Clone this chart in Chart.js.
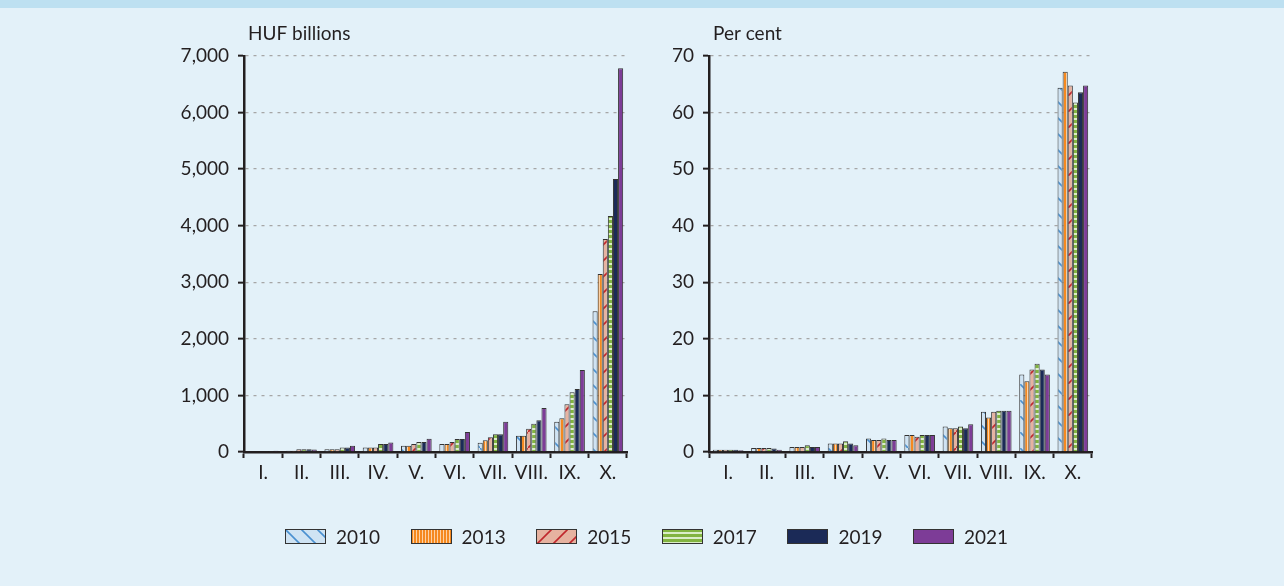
<!DOCTYPE html>
<html>
<head>
<meta charset="utf-8">
<script src="https://cdn.jsdelivr.net/npm/chart.js@4/dist/chart.umd.min.js"></script>
<style>
  html, body { margin: 0; padding: 0; }
  body { width: 1284px; height: 586px; background: #e3f1f9; position: relative; overflow: hidden; font-family: Lato, sans-serif; }
  #band { position: absolute; left: 0; top: 0; width: 1284px; height: 8px; background: #bde0f1; }
  .box { position: absolute; top: 0; width: 642px; height: 586px; }
  #legend { position: absolute; left: 285px; top: 525px; height: 22px; display: flex; align-items: center; }
  #legend .item { width: 125.6px; display: flex; align-items: center; font-size: 19px; color: #231f20; }
  #legend canvas { margin-right: 10px; }
</style>
</head>
<body>
<div id="band"></div>
<div class="box" style="left:0"><canvas id="left"></canvas></div>
<div class="box" style="left:620px"><canvas id="right"></canvas></div>
<div id="legend"></div>
<script>
const deciles = ['I.', 'II.', 'III.', 'IV.', 'V.', 'VI.', 'VII.', 'VIII.', 'IX.', 'X.'];
const years = ['2010', '2013', '2015', '2017', '2019', '2021'];

// HUF billions
const huf2010 = [12, 20, 50, 80, 112, 140, 165, 289, 536, 2490];
const huf2013 = [14, 22, 50, 80, 112, 140, 206, 289, 595, 3145];
const huf2015 = [15, 50, 50, 80, 142, 175, 259, 412, 843, 3765];
const huf2017 = [17, 50, 80, 142, 175, 230, 312, 501, 1055, 4170];
const huf2019 = [18, 50, 80, 142, 175, 230, 312, 560, 1113, 4825];
const huf2021 = [20, 45, 112, 170, 233, 353, 536, 777, 1449, 6785];

// per cent
const pct2010 = [0.4, 0.7, 0.9, 1.5, 2.4, 3.0, 4.5, 7.1, 13.7, 64.4];
const pct2013 = [0.4, 0.7, 0.9, 1.5, 2.1, 3.0, 4.2, 6.1, 12.5, 67.2];
const pct2015 = [0.4, 0.7, 0.9, 1.5, 2.1, 2.7, 4.2, 7.1, 14.6, 64.8];
const pct2017 = [0.4, 0.7, 1.2, 1.9, 2.4, 3.0, 4.5, 7.3, 15.6, 61.8];
const pct2019 = [0.4, 0.6, 0.9, 1.5, 2.1, 3.0, 4.2, 7.3, 14.6, 63.6];
const pct2021 = [0.3, 0.4, 0.9, 1.2, 2.1, 3.0, 4.9, 7.3, 13.7, 64.8];

const ink = '#231f20';

function tile(w, h, draw) {
  const c = document.createElement('canvas');
  c.width = w; c.height = h;
  const g = c.getContext('2d');
  draw(g);
  return g.createPattern(c, 'repeat');
}

const fills = [
  tile(16, 16, g => {
    g.fillStyle = '#cfe3f3'; g.fillRect(0, 0, 16, 16);
    g.strokeStyle = '#4a90d0'; g.lineWidth = 1.6;
    g.beginPath(); g.moveTo(-1, -1); g.lineTo(17, 17); g.stroke();
  }),
  tile(3, 1, g => {
    g.fillStyle = '#fdd1a4'; g.fillRect(0, 0, 3, 1);
    g.fillStyle = '#f5891f'; g.fillRect(0, 0, 2, 1);
  }),
  tile(16, 16, g => {
    g.fillStyle = '#e6b2a0'; g.fillRect(0, 0, 16, 16);
    g.strokeStyle = '#c0272d'; g.lineWidth = 1.6;
    g.beginPath(); g.moveTo(-1, 17); g.lineTo(17, -1); g.stroke();
  }),
  tile(1, 5, g => {
    g.fillStyle = '#dbeec8'; g.fillRect(0, 0, 1, 5);
    g.fillStyle = '#82b440'; g.fillRect(0, 0, 1, 3);
  }),
  '#1b2a57',
  '#7d3c97'
];

const hufSeries = [huf2010, huf2013, huf2015, huf2017, huf2019, huf2021];
const pctSeries = [pct2010, pct2013, pct2015, pct2017, pct2019, pct2021];

const unitLabel = {
  id: 'unitLabel',
  afterDraw(chart, args, opts) {
    const { ctx, chartArea } = chart;
    ctx.save();
    ctx.font = '19px Lato';
    ctx.fillStyle = ink;
    ctx.textBaseline = 'alphabetic';
    ctx.fillText(opts.text, chartArea.left + 4, chartArea.top - 16);
    ctx.restore();
  }
};

function makeChart(id, series, unit, max, step, padLeft, padRight) {
  return new Chart(document.getElementById(id), {
    type: 'bar',
    data: {
      labels: deciles,
      datasets: series.map((d, i) => ({
        label: years[i],
        data: d,
        backgroundColor: fills[i],
        borderColor: '#333333',
        borderWidth: 1,
        categoryPercentage: 0.8,
        barPercentage: 1.0
      }))
    },
    plugins: [unitLabel],
    options: {
      responsive: true,
      maintainAspectRatio: false,
      animation: false,
      layout: {
        padding: { left: padLeft, right: padRight, top: 56, bottom: 94 }
      },
      plugins: {
        legend: { display: false },
        tooltip: { enabled: false },
        unitLabel: { text: unit }
      },
      scales: {
        x: {
          afterFit: (s) => { s.height = 40; },
          grid: {
            offset: true,
            drawOnChartArea: false,
            tickLength: 6,
            tickWidth: 2,
            color: ink
          },
          border: { color: ink, width: 2.5 },
          ticks: {
            color: ink,
            padding: 3,
            maxRotation: 0,
            autoSkip: false,
            font: { family: 'Lato', size: 19 }
          }
        },
        y: {
          min: 0,
          max: max,
          afterFit: (s) => { s.width = 80; },
          grid: {
            color: (c) => c.tick && c.tick.value === 0 ? 'rgba(0,0,0,0)' : '#a6a6a6',
            lineWidth: 1.3,
            tickColor: ink,
            tickLength: 6,
            tickWidth: 2,
            tickBorderDash: []
          },
          border: { color: ink, width: 2.5, dash: [3, 5] },
          ticks: {
            stepSize: step,
            color: ink,
            padding: 9,
            font: { family: 'Lato', size: 19 }
          }
        }
      }
    }
  });
}

makeChart('left', hufSeries, 'HUF billions', 7000, 1000, 164, 15);
makeChart('right', pctSeries, 'Per cent', 70, 10, 9, 170);

// shared legend under both panels
const legend = document.getElementById('legend');
years.forEach((y, i) => {
  const item = document.createElement('div');
  item.className = 'item';
  const sw = document.createElement('canvas');
  sw.width = 41; sw.height = 15;
  const g = sw.getContext('2d');
  g.fillStyle = fills[i];
  g.fillRect(0, 0, 41, 15);
  g.strokeStyle = '#333333';
  g.lineWidth = 1;
  g.strokeRect(0.5, 0.5, 40, 14);
  const txt = document.createElement('span');
  txt.textContent = y;
  item.appendChild(sw);
  item.appendChild(txt);
  legend.appendChild(item);
});
</script>
</body>
</html>
